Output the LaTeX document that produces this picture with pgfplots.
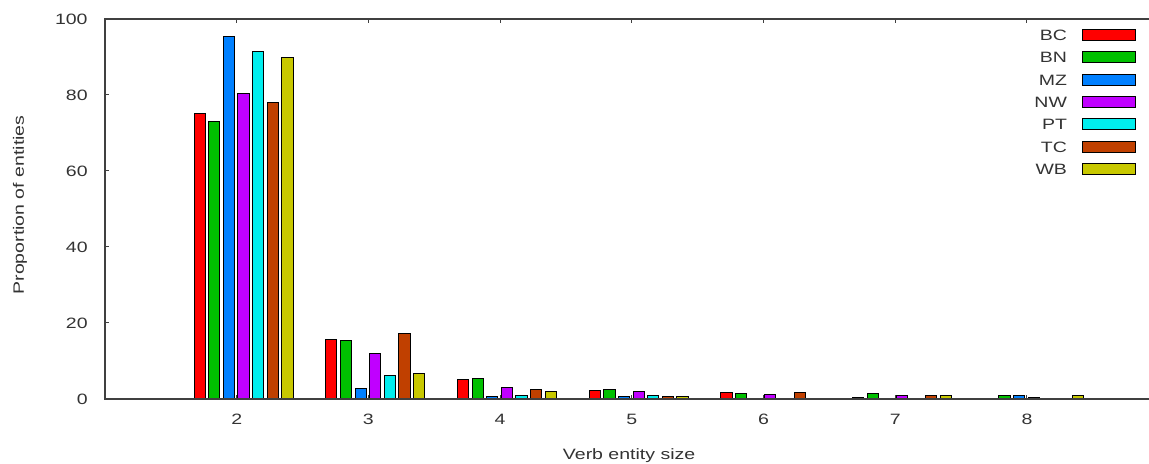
\documentclass[border=0pt]{standalone}
\usepackage{pgfplots}
\pgfplotsset{compat=1.18}
\usepackage{pgfplotstable}
\usepackage{fontspec}
\setmainfont{Liberation Sans}[FakeStretch=1.3]
\definecolor{cBC}{HTML}{FF0000}
\definecolor{cBN}{HTML}{00C000}
\definecolor{cMZ}{HTML}{0080FF}
\definecolor{cNW}{HTML}{C000FF}
\definecolor{cPT}{HTML}{00EEEE}
\definecolor{cTC}{HTML}{C04000}
\definecolor{cWB}{HTML}{C8C800}
\definecolor{axcol}{HTML}{404040}
\definecolor{txtcol}{HTML}{333333}
\pgfplotstableread{
x BC BN MZ NW PT TC WB
2 75.1 72.9 95.3 80.5 91.4 78.0 89.8
3 15.6 15.3 2.8 11.9 6.2 17.2 6.6
4 5.0 5.4 0.6 3.1 1.0 2.6 1.9
5 2.2 2.6 0.6 1.9 1.0 0.7 0.7
6 1.7 1.4 0 1.1 0.2 1.6 0
7 0.3 1.4 0 0.8 0 0.8 0.8
8 0 0.8 0.8 0.3 0 0 0.8
}\data
\pgfplotsset{
  mybar/.style 2 args={ybar, /pgf/bar width=0.085, /pgf/bar shift=#2, fill=#1, draw=black, line width=0.5pt,
    legend image code/.code={\draw[fill=#1, draw=black, line width=0.5pt] (0pt,-2.75pt) rectangle (26.5pt,2.75pt);}},
}
\begin{document}
\begin{tikzpicture}[font=\fontsize{7.5}{9}\selectfont]
\begin{axis}[
  name=ax, at={(0,0)}, anchor=south west,
  scale only axis, width=522pt, height=190pt,
  xmin=1, xmax=8.927, ymin=0, ymax=100,
  axis line style={draw=none},
  xtick={2,3,4,5,6,7,8}, ytick={0,20,40,60,80,100},
  xtick pos=both, xticklabel pos=left, ytick pos=left,
  tick align=inside, major tick length=2pt,
  tick style={axcol, line width=0.5pt},
  /pgf/number format/assume math mode=true,
  ticklabel style={text=txtcol},
  yticklabel style={anchor=east, inner sep=0pt, xshift=-8.5pt},
  xticklabel style={anchor=north, inner sep=0pt, yshift=-7.5pt},
  xlabel={Verb entity size}, ylabel={Proportion of entities},
  every axis x label/.style={at={(axis description cs:0.502,0)}, anchor=center, inner sep=0pt, yshift=-28.5pt, text=txtcol},
  every axis y label/.style={at={(axis description cs:-0.0814,0.5105)}, rotate=90, anchor=center, inner sep=0pt, text=txtcol},
  legend plot pos=right, legend cell align=right,
  legend style={draw=none, fill=none, at={(0.9875,0.974)}, anchor=north east, inner sep=0pt, outer sep=0pt,
    row sep=5.2pt, column sep=7.5pt, text=txtcol,
    nodes={inner sep=0pt, text height=5.4pt, text depth=0pt}},
]
\addplot[mybar={cBC}{-0.281}] table[x=x, y=BC]{\data};
\addplot[mybar={cBN}{-0.170}] table[x=x, y=BN]{\data};
\addplot[mybar={cMZ}{-0.059}] table[x=x, y=MZ]{\data};
\addplot[mybar={cNW}{0.052}] table[x=x, y=NW]{\data};
\addplot[mybar={cPT}{0.163}] table[x=x, y=PT]{\data};
\addplot[mybar={cTC}{0.274}] table[x=x, y=TC]{\data};
\addplot[mybar={cWB}{0.385}] table[x=x, y=WB]{\data};
\legend{BC,BN,MZ,NW,PT,TC,WB}
\end{axis}
\draw[axcol, line width=0.6pt] (ax.north east) -- (ax.north west) -- (ax.south west) -- (ax.south east);
\pgfresetboundingbox
\useasboundingbox (-52.5pt,-32.5pt) rectangle (522pt,199.5pt);
\end{tikzpicture}
\end{document}
